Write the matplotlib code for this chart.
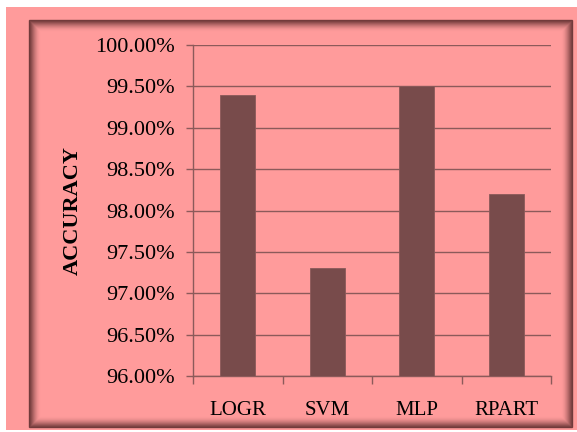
import matplotlib
matplotlib.use("Agg")
import matplotlib.pyplot as plt
from matplotlib.patches import Rectangle
from matplotlib.ticker import FuncFormatter, FixedLocator

models = ["LOGR", "SVM", "MLP", "RPART"]
accuracy = [99.40, 97.30, 99.50, 98.20]
y_ticks = [96.0, 96.5, 97.0, 97.5, 98.0, 98.5, 99.0, 99.5, 100.0]

pink = "#ff9b9b"
bar_col = "#784b4b"
line_col = "#8c5a5a"

plt.rcParams["font.family"] = ["Liberation Serif", "DejaVu Serif"]

W, H = 577, 432
fig = plt.figure(figsize=(W / 100, H / 100), dpi=100, facecolor="white")


def px(x0, y0, x1, y1):
    # pixel box (top-left origin) -> figure coords
    return x0 / W, 1 - y1 / H, (x1 - x0) / W, (y1 - y0) / H


# pink background
bx, by, bw, bh = px(6, 7, 577, 430)
fig.patches.append(Rectangle((bx, by), bw, bh, transform=fig.transFigure,
                             facecolor=pink, edgecolor="none", zorder=-3))

# inset frame shadow
n = 11
for i in range(n):
    fx, fy, fw, fh = px(29 + i, 20 + i, 572 - i, 427 - i)
    a = 0.75 * (1 - i / n) ** 1.8
    fig.patches.append(Rectangle((fx, fy), fw, fh, transform=fig.transFigure,
                                 facecolor="none", edgecolor="#4a2020",
                                 linewidth=1.0, alpha=a, zorder=-2))

ax_l, ax_r, ax_t, ax_b = 193, 551, 45, 376
ax = fig.add_axes(px(ax_l, ax_t, ax_r, ax_b))
ax.set_facecolor("none")
ax.set_zorder(1)

x = range(len(models))
ax.bar(x, accuracy, width=0.39, color=bar_col, edgecolor="#8a5a5a",
       linewidth=0.6, zorder=3)

ax.set_ylim(96, 100)
ax.set_xlim(-0.5, len(models) - 0.5)
ax.yaxis.set_major_locator(FixedLocator(y_ticks))
ax.yaxis.set_major_formatter(FuncFormatter(lambda v, p: f"{v:.2f}%"))
ax.grid(axis="y", color=line_col, linewidth=1.0, zorder=1)
ax.set_axisbelow(True)

ax.set_xticks(list(x))
ax.set_xticklabels(models, fontsize=15)
ax.set_xticks([i - 0.5 for i in range(len(models) + 1)], minor=True)
ax.tick_params(axis="x", which="major", length=0, pad=18)
ax.tick_params(axis="x", which="minor", length=6, color=line_col, width=1.0)
ax.tick_params(axis="y", length=5, color=line_col, width=1.0, labelsize=16, pad=8)

for s in ["top", "right"]:
    ax.spines[s].set_visible(False)
for s in ["left", "bottom"]:
    ax.spines[s].set_color(line_col)
    ax.spines[s].set_linewidth(1.0)

fig.text(73 / W, 1 - 211 / H, "ACCURACY", rotation=90, fontsize=16,
         fontweight="bold", ha="center", va="center")

fig.savefig("out.png", dpi=100, facecolor="white")
